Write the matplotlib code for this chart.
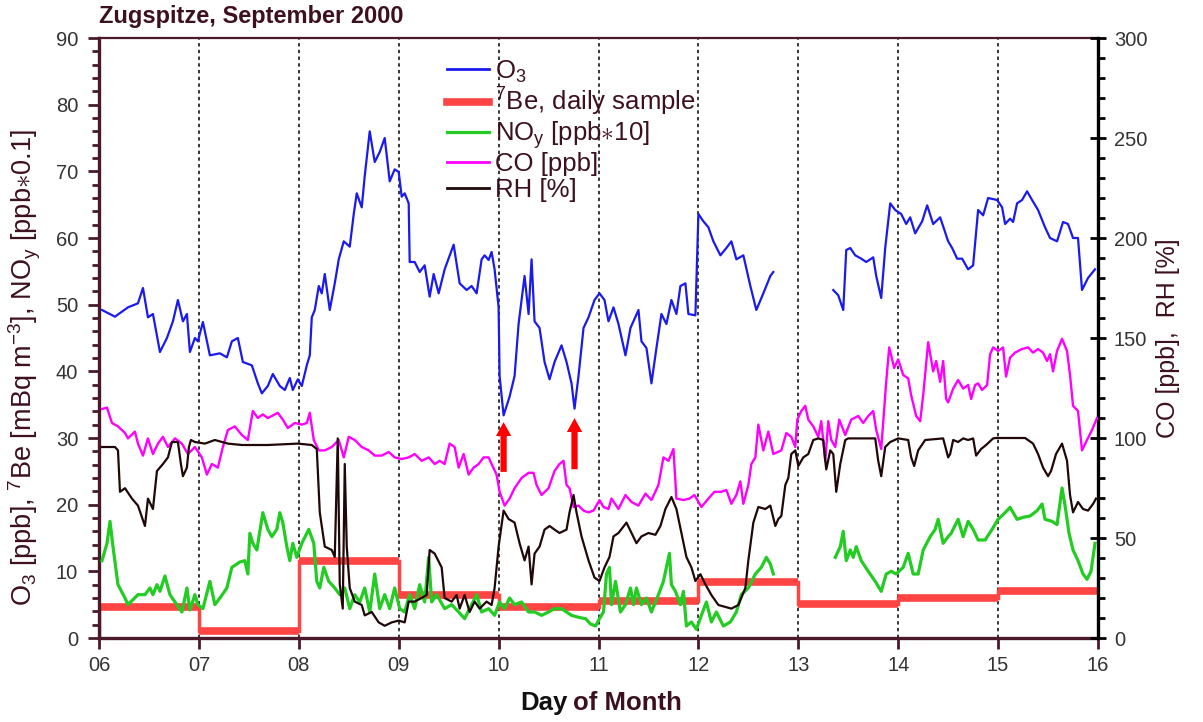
import numpy as np
import matplotlib
matplotlib.use('Agg')
import matplotlib.pyplot as plt
from matplotlib.lines import Line2D
from matplotlib.ticker import MultipleLocator

plt.rcParams['font.family'] = ['Liberation Sans', 'DejaVu Sans']
plt.rcParams['mathtext.fontset'] = 'custom'
plt.rcParams['mathtext.rm'] = 'Liberation Sans'
plt.rcParams['mathtext.it'] = 'Liberation Sans:italic'

MAROON = '#4a1a2a'
TXT = '#3d1020'

# --- O3 [ppb] (left axis) ---
o3_day = [6.03, 6.16, 6.29, 6.39, 6.44, 6.49, 6.54, 6.61, 6.68, 6.74, 6.79, 6.84, 6.88, 6.91,
          6.96, 6.99, 7.04, 7.11, 7.21, 7.28, 7.33, 7.39, 7.44, 7.53, 7.59, 7.63, 7.69, 7.74,
          7.81, 7.86, 7.91, 7.94, 7.99, 8.03, 8.08, 8.11, 8.13, 8.16, 8.20, 8.23, 8.26, 8.31,
          8.36, 8.40, 8.45, 8.51, 8.55, 8.58, 8.63, 8.66, 8.71, 8.76, 8.81, 8.86, 8.91, 8.96,
          9.00, 9.03, 9.06, 9.10, 9.11, 9.16, 9.21, 9.26, 9.31, 9.35, 9.40, 9.46, 9.55, 9.61,
          9.68, 9.73, 9.78, 9.83, 9.86, 9.90, 9.93, 9.96, 10.00, 10.01, 10.05, 10.11, 10.16,
          10.20, 10.23, 10.26, 10.30, 10.33, 10.36, 10.41, 10.46, 10.51, 10.56, 10.63, 10.68,
          10.73, 10.76, 10.80, 10.85, 10.90, 10.96, 11.01, 11.06, 11.10, 11.15, 11.20, 11.27,
          11.32, 11.40, 11.43, 11.48, 11.53, 11.58, 11.63, 11.68, 11.73, 11.78, 11.82, 11.87,
          11.90, 11.97, 12.00, 12.05, 12.10, 12.15, 12.22, 12.28, 12.33, 12.38, 12.45, 12.52,
          12.58, 12.65, 12.72, 12.75, 12.76,
          13.35, 13.40, 13.45, 13.48, 13.52, 13.57, 13.63, 13.68, 13.75, 13.78, 13.83, 13.87,
          13.92, 13.97, 14.03, 14.08, 14.12, 14.17, 14.24, 14.29, 14.35, 14.42, 14.50, 14.54,
          14.59, 14.64, 14.70, 14.75, 14.80, 14.85, 14.90, 14.99, 15.04, 15.07, 15.12, 15.15,
          15.19, 15.24, 15.29, 15.34, 15.40, 15.47, 15.52, 15.59, 15.65, 15.70, 15.75, 15.80,
          15.84, 15.90, 15.97]
o3_val = [49.2, 48.2, 49.6, 50.2, 52.5, 48.1, 48.6, 42.9, 45.0, 47.5, 50.7, 47.5, 48.6, 42.9,
          45.0, 44.5, 47.4, 42.4, 42.7, 42.1, 44.5, 45.0, 41.4, 40.9, 38.2, 36.7, 37.8, 39.6,
          37.8, 37.2, 39.0, 37.2, 38.8, 37.8, 40.9, 42.4, 48.1, 49.2, 52.8, 51.7, 54.6, 49.2,
          53.2, 56.8, 59.5, 58.7, 63.6, 66.7, 64.6, 69.3, 76.0, 71.4, 72.9, 75.0, 68.5, 70.3,
          69.9, 66.2, 66.7, 65.2, 56.4, 56.4, 54.9, 55.9, 51.2, 54.6, 51.7, 55.3, 59.0, 53.2,
          52.2, 52.8, 51.7, 56.8, 57.4, 56.7, 57.9, 55.3, 49.6, 39.3, 33.4, 36.2, 39.3,
          47.1, 50.7, 54.3, 48.6, 56.8, 47.5, 46.5, 41.4, 38.8, 41.4, 43.9, 41.4,
          38.2, 34.4, 39.3, 46.5, 48.1, 50.7, 51.7, 50.7, 47.5, 49.6, 47.1, 42.4,
          46.5, 49.2, 44.5, 43.5, 38.2, 43.5, 48.6, 47.1, 50.7, 48.6, 52.8, 53.2,
          48.6, 48.4, 63.6, 62.5, 61.6, 59.5, 57.4, 58.5, 59.5, 56.8, 57.4, 52.8,
          49.2, 51.7, 54.3, 54.9, np.nan,
          52.2, 51.4, 49.2, 58.2, 58.5, 57.4, 56.9, 56.4, 57.1, 54.3, 51.0, 58.5,
          65.2, 64.2, 63.6, 62.1, 63.1, 60.7, 62.5, 64.9, 62.1, 63.1, 59.5, 58.5,
          56.9, 56.9, 55.3, 55.9, 64.2, 63.4, 66.0, 65.7, 64.6, 62.1, 62.9, 62.4,
          65.2, 65.7, 67.0, 65.7, 64.2, 61.6, 60.0, 59.5, 62.4, 62.1, 60.0, 60.0,
          52.2, 54.0, 55.3]

# --- NOy [ppb*10] (left axis) ---
noy_day = [6.03, 6.08, 6.11, 6.14, 6.19, 6.26, 6.29, 6.39, 6.46, 6.51, 6.54, 6.58, 6.61, 6.66,
           6.71, 6.78, 6.83, 6.88, 6.91, 6.96, 6.99, 7.04, 7.11, 7.16, 7.21, 7.28, 7.33, 7.41,
           7.46, 7.49, 7.51, 7.54, 7.58, 7.64, 7.69, 7.73, 7.78, 7.81, 7.84, 7.88, 7.91, 7.94,
           7.98, 8.03, 8.10, 8.15, 8.18, 8.21, 8.25, 8.30, 8.36, 8.41, 8.46, 8.51, 8.56, 8.61,
           8.66, 8.71, 8.76, 8.81, 8.86, 8.91, 8.96, 9.01, 9.06, 9.11, 9.16, 9.21, 9.26, 9.30,
           9.33, 9.38, 9.41, 9.46, 9.53, 9.60, 9.66, 9.73, 9.78, 9.83, 9.90, 9.96, 10.01, 10.06,
           10.11, 10.16, 10.23, 10.30, 10.36, 10.43, 10.50, 10.56, 10.63, 10.68, 10.73, 10.80,
           10.87, 10.92, 10.97, 11.01, 11.05, 11.08, 11.11, 11.13, 11.17, 11.22, 11.27, 11.32,
           11.35, 11.38, 11.43, 11.48, 11.53, 11.60, 11.65, 11.68, 11.71, 11.73, 11.77, 11.82,
           11.85, 11.88, 11.93, 11.98, 12.03, 12.08, 12.13, 12.18, 12.25, 12.32, 12.38, 12.43,
           12.50, 12.57, 12.63, 12.68, 12.72, 12.75, 12.76,
           13.37, 13.42, 13.45, 13.48, 13.52, 13.55, 13.58, 13.63, 13.70, 13.77, 13.83, 13.88,
           13.93, 13.98, 14.05, 14.10, 14.15, 14.20, 14.25, 14.32, 14.37, 14.40, 14.45, 14.50,
           14.53, 14.60, 14.65, 14.70, 14.75, 14.80, 14.87, 14.94, 15.00, 15.07, 15.12, 15.19,
           15.25, 15.32, 15.39, 15.44, 15.47, 15.54, 15.59, 15.64, 15.67, 15.71, 15.75, 15.80,
           15.85, 15.89, 15.93, 15.97]
noy_val = [11.6, 14.2, 17.5, 13.7, 8.0, 6.0, 5.0, 6.5, 6.5, 7.5, 6.5, 8.0, 7.0, 9.3,
           6.5, 5.0, 3.9, 7.5, 4.2, 6.5, 5.0, 4.4, 8.5, 5.0, 6.0, 7.5, 10.6, 11.4,
           11.6, 9.6, 15.7, 14.2, 13.2, 18.8, 16.3, 15.2, 16.3, 18.8, 17.3, 13.7, 11.6, 14.2,
           12.1, 14.2, 16.3, 14.2, 8.5, 7.5, 10.6, 8.5, 7.5, 6.5, 7.5, 4.4, 6.5, 5.4,
           7.5, 3.9, 9.6, 4.4, 6.5, 4.4, 7.5, 4.4, 3.9, 6.5, 4.4, 8.0, 5.4, 12.1,
           5.4, 6.5, 5.7, 4.4, 5.0, 3.9, 2.9, 5.0, 6.5, 3.9, 4.4, 3.4, 5.4, 4.4,
           6.0, 5.0, 5.4, 3.9, 3.9, 3.4, 3.9, 4.4, 4.4, 3.9, 3.4, 3.1,
           2.9, 2.1, 1.8, 2.9, 3.9, 9.6, 10.6, 5.0, 8.5, 3.9, 5.0, 7.5,
           5.0, 7.5, 5.0, 6.0, 3.9, 6.5, 8.5, 10.6, 12.7, 8.0, 7.0, 5.0,
           7.0, 1.8, 2.4, 1.3, 3.4, 5.4, 2.4, 3.9, 1.8, 2.4, 3.9, 6.5,
           7.5, 9.6, 10.6, 12.1, 11.1, 9.6, np.nan,
           12.1, 13.7, 16.0, 11.6, 13.2, 12.1, 13.7, 11.6, 10.0, 8.5, 7.0, 9.6,
           10.0, 9.6, 10.6, 12.7, 9.6, 9.6, 13.2, 15.2, 16.3, 17.8, 14.2, 15.2,
           15.7, 17.8, 15.2, 17.5, 16.3, 14.7, 14.7, 16.3, 17.8, 18.8, 19.6, 17.8,
           18.1, 18.3, 19.1, 20.1, 17.8, 17.5, 17.0, 22.5, 19.9, 15.7, 13.2, 11.6,
           9.6, 8.8, 10.0, 14.2]

# --- CO [ppb] (right axis) ---
co_day = [6.03, 6.08, 6.13, 6.19, 6.26, 6.29, 6.36, 6.39, 6.44, 6.49, 6.54, 6.59, 6.64, 6.69,
          6.76, 6.83, 6.89, 6.96, 7.03, 7.08, 7.13, 7.19, 7.24, 7.29, 7.36, 7.43, 7.49, 7.54,
          7.59, 7.64, 7.69, 7.73, 7.79, 7.84, 7.89, 7.96, 8.03, 8.08, 8.11, 8.15, 8.20, 8.26,
          8.33, 8.40, 8.45, 8.50, 8.56, 8.63, 8.70, 8.76, 8.83, 8.90, 8.96, 9.03, 9.10, 9.16,
          9.23, 9.30, 9.36, 9.41, 9.46, 9.51, 9.56, 9.60, 9.65, 9.70, 9.75, 9.80, 9.85, 9.90,
          9.93, 9.98, 10.01, 10.06, 10.11, 10.16, 10.23, 10.30, 10.35, 10.38, 10.43, 10.50,
          10.56, 10.61, 10.65, 10.68, 10.71, 10.75, 10.80, 10.85, 10.90, 10.95, 11.01, 11.05,
          11.10, 11.13, 11.20, 11.27, 11.33, 11.40, 11.47, 11.53, 11.60, 11.65, 11.70, 11.75,
          11.78, 11.85, 11.91, 11.96, 12.03, 12.10, 12.16, 12.23, 12.28, 12.33, 12.38, 12.42,
          12.45, 12.50, 12.53, 12.57, 12.60, 12.65, 12.70, 12.75, 12.83, 12.88, 12.93, 12.97,
          12.99, 13.03, 13.07, 13.10, 13.15, 13.20, 13.23, 13.27, 13.30, 13.33, 13.37, 13.41,
          13.47, 13.53, 13.60, 13.65, 13.70, 13.75, 13.78, 13.83, 13.88, 13.91, 13.96, 14.00,
          14.05, 14.10, 14.13, 14.18, 14.22, 14.25, 14.30, 14.35, 14.38, 14.42, 14.45, 14.48,
          14.50, 14.55, 14.60, 14.65, 14.70, 14.73, 14.77, 14.80, 14.84, 14.89, 14.92, 14.95,
          15.00, 15.05, 15.08, 15.12, 15.17, 15.24, 15.30, 15.35, 15.40, 15.45, 15.49, 15.52,
          15.55, 15.59, 15.64, 15.69, 15.72, 15.75, 15.80, 15.84, 15.89, 15.94, 15.99]
co_val = [114.5, 115.2, 107.5, 105.8, 102.5, 99.8, 103.2, 97.2, 91.2, 99.8, 92.0, 97.2, 100.6, 95.5,
          99.8, 97.2, 92.0, 95.5, 90.3, 81.7, 87.0, 85.2, 95.5, 104.0, 105.8, 101.5, 99.0, 113.5,
          110.0, 111.8, 110.0, 111.0, 112.6, 109.2, 105.0, 107.5, 106.7, 107.5, 112.6, 99.0, 93.8, 93.8,
          95.5, 99.0, 90.3, 100.6, 99.0, 95.5, 93.8, 91.2, 91.2, 93.0, 90.3, 89.5, 90.3, 92.0,
          88.6, 90.3, 87.0, 88.6, 87.0, 97.2, 95.5, 85.2, 92.0, 81.7, 85.2, 87.0, 90.3, 90.3,
          87.0, 81.7, 73.1, 66.2, 69.7, 74.9, 80.0, 82.6, 82.6, 76.5, 71.5, 74.9,
          83.5, 87.0, 88.6, 76.5, 74.9, 65.5, 66.2, 63.7, 62.8, 63.7, 68.9, 65.5,
          64.5, 69.7, 64.5, 71.5, 68.0, 66.2, 72.2, 69.0, 76.5, 90.3, 88.6, 94.5,
          69.7, 69.0, 69.7, 71.5, 65.5, 69.7, 73.1, 73.1, 74.0, 67.1, 71.5, 78.3,
          67.1, 76.5, 87.0, 90.3, 106.7, 93.8, 103.2, 92.0, 93.8, 102.5, 100.6, 95.5,
          109.2, 113.5, 116.1, 109.2, 105.8, 100.6, 108.4, 88.6, 108.4, 99.0, 95.5, 109.2,
          101.5, 109.2, 111.0, 107.5, 111.0, 113.5, 104.0, 94.5, 128.1, 145.3, 135.0, 139.3,
          131.5, 129.8, 121.3, 111.0, 108.4, 121.3, 147.9, 133.3, 138.5, 128.1, 138.5, 119.5,
          117.8, 124.7, 129.0, 124.7, 126.5, 119.5, 126.5, 127.3, 124.0, 126.5, 141.9, 145.3,
          143.5, 145.3, 130.7, 140.2, 142.7, 144.5, 145.3, 142.7, 144.5, 142.7, 138.5, 141.9,
          133.3, 143.5, 149.6, 143.5, 131.5, 116.1, 113.5, 93.8, 99.0, 104.0, 110.0]

# --- RH [%] (right axis) ---
rh_day = [6.03, 6.16, 6.19, 6.21, 6.26, 6.33, 6.39, 6.46, 6.49, 6.54, 6.58, 6.64, 6.69, 6.73,
          6.79, 6.82, 6.84, 6.88, 6.90, 6.92, 6.96, 7.06, 7.16, 7.29, 7.43, 7.69, 7.99, 8.13,
          8.18, 8.21, 8.26, 8.33, 8.36, 8.39, 8.41, 8.44, 8.46, 8.48, 8.51, 8.56, 8.63, 8.66,
          8.73, 8.80, 8.86, 8.93, 9.00, 9.06, 9.10, 9.16, 9.23, 9.28, 9.31, 9.36, 9.43, 9.46,
          9.53, 9.58, 9.61, 9.66, 9.71, 9.76, 9.81, 9.88, 9.93, 9.96, 10.00, 10.05, 10.10,
          10.16, 10.21, 10.26, 10.30, 10.33, 10.36, 10.41, 10.46, 10.51, 10.56, 10.61, 10.68,
          10.71, 10.75, 10.78, 10.83, 10.90, 10.96, 11.01, 11.06, 11.11, 11.15, 11.20, 11.28,
          11.33, 11.38, 11.43, 11.50, 11.57, 11.62, 11.67, 11.73, 11.78, 11.83, 11.88, 11.93,
          11.97, 12.02, 12.07, 12.13, 12.20, 12.27, 12.33, 12.40, 12.47, 12.50, 12.55, 12.60,
          12.67, 12.72, 12.77, 12.80, 12.83, 12.87, 12.90, 12.93, 12.97, 13.00, 13.05, 13.10,
          13.15, 13.20, 13.25, 13.27, 13.28, 13.32, 13.35, 13.38, 13.42, 13.47, 13.50, 13.77,
          13.80, 13.83, 13.87, 13.92, 14.00, 14.10, 14.13, 14.16, 14.20, 14.27, 14.45, 14.50,
          14.52, 14.55, 14.60, 14.65, 14.70, 14.75, 14.78, 14.83, 14.88, 14.95, 14.98, 15.27,
          15.35, 15.40, 15.45, 15.50, 15.53, 15.58, 15.64, 15.69, 15.72, 15.75, 15.80, 15.85,
          15.90, 15.95, 15.98]
rh_val = [95.5, 95.5, 93.8, 73.1, 74.9, 69.7, 66.2, 56.0, 69.7, 64.5, 83.5, 87.0, 90.3, 98.0,
          98.0, 87.0, 80.9, 85.2, 95.5, 99.0, 98.0, 97.2, 99.0, 97.2, 96.5, 96.5, 97.2, 96.5,
          94.5, 62.8, 45.7, 44.0, 40.5, 99.8, 26.8, 14.7, 87.0, 45.7, 25.0, 18.2, 16.5, 11.3,
          13.0, 7.8, 6.1, 7.8, 8.7, 7.8, 18.2, 18.2, 20.0, 21.5, 44.0, 42.2, 35.3, 20.0,
          18.2, 21.5, 14.7, 21.5, 13.0, 18.2, 14.7, 18.2, 16.5, 25.0, 45.7, 63.7, 59.5,
          57.7, 47.4, 38.8, 45.7, 26.8, 42.2, 45.7, 54.2, 56.0, 54.2, 52.5, 54.2,
          62.8, 71.5, 62.8, 50.8, 38.8, 30.2, 28.5, 35.3, 40.5, 50.8, 52.5, 57.7,
          52.5, 47.4, 50.8, 52.5, 51.6, 56.0, 64.5, 70.5, 64.5, 52.5, 40.5, 35.3,
          28.5, 31.9, 26.8, 21.5, 16.5, 15.5, 14.7, 16.5, 25.0, 38.8, 57.7, 65.5,
          64.5, 66.2, 56.0, 59.5, 61.0, 76.5, 80.0, 92.0, 93.8, 86.0, 90.3, 92.0,
          99.0, 99.8, 99.0, 88.6, 84.3, 93.8, 92.0, 73.1, 87.0, 99.0, 99.8, 99.8,
          88.6, 80.9, 95.5, 98.0, 99.8, 99.0, 90.3, 86.0, 93.8, 99.0, 99.8, 90.3,
          92.0, 99.0, 98.0, 99.8, 99.0, 99.8, 91.2, 94.5, 96.5, 99.8, 100.0, 100.0,
          97.2, 92.0, 85.2, 80.9, 83.5, 92.0, 97.2, 88.6, 71.5, 62.8, 68.0, 64.5,
          63.7, 67.0, 69.7]

# --- 7Be daily samples [mBq m-3] ---
be_edges = [6, 7, 8, 9, 10, 11, 12, 13, 14, 15, 16]
be_vals = [4.7, 1.0, 11.5, 6.5, 4.7, 5.6, 8.4, 5.1, 6.0, 7.1]

# arrows (day, base, tip) marking O3 minima
arrow_day = [10.05, 10.76]
arrow_base = [24.5, 24.9]
arrow_tip = [32.8, 33.4]

days = list(range(6, 17))

fig = plt.figure(figsize=(12.03, 7.22), dpi=100)
ax = fig.add_axes([99 / 1203, 1 - 638 / 722, 999 / 1203, 600 / 722])
ax2 = ax.twinx()

for d in days[1:-1]:
    ax.axvline(d, color='black', lw=1.1, ls=(0, (2.2, 2.2)), zorder=1)

# 7Be step
ax.hlines(be_vals, be_edges[:-1], be_edges[1:], color='#ff4444', lw=5.5, zorder=2)
ax.stairs(be_vals, be_edges, baseline=None, color='#ff4444', lw=2.5, zorder=2)
ax.vlines(be_edges[0], 0, be_vals[0], color='#ff4444', lw=2.5, zorder=2)

ax.plot(noy_day, noy_val, color='#22cc22', lw=2.3, zorder=3)
ax.plot(o3_day, o3_val, color='#1a1aee', lw=1.6, zorder=4)

for d, b, t in zip(arrow_day, arrow_base, arrow_tip):
    ax.annotate('', xy=(d, t), xytext=(d, b),
                arrowprops=dict(arrowstyle='simple,head_width=1.1,head_length=1.0,tail_width=0.45',
                                color='#ff0000', lw=0), zorder=5)

ax2.plot(co_day, co_val, color='#ff00ff', lw=1.7, zorder=3)
ax2.plot(rh_day, rh_val, color='#200808', lw=1.6, zorder=4)

ax.set_xlim(6, 16)
ax.set_ylim(0, 90)
ax2.set_ylim(0, 300)

ax.set_xticks(days)
ax.set_xticklabels([f'{d:02d}' for d in days])
ax.yaxis.set_major_locator(MultipleLocator(10))
ax.yaxis.set_minor_locator(MultipleLocator(2))
ax2.yaxis.set_major_locator(MultipleLocator(50))
ax2.yaxis.set_minor_locator(MultipleLocator(10))

for s in ['left', 'bottom', 'top']:
    ax.spines[s].set_color(MAROON)
ax.spines['left'].set_linewidth(2.4)
ax.spines['bottom'].set_linewidth(2.4)
ax.spines['top'].set_linewidth(1.6)
ax.spines['right'].set_visible(False)
for s in ['left', 'bottom', 'top']:
    ax2.spines[s].set_visible(False)
ax2.spines['right'].set_color('black')
ax2.spines['right'].set_linewidth(2.4)

ax.tick_params(axis='y', which='major', direction='out', length=8, width=2, color=MAROON,
               labelsize=14.5, labelcolor='#333333', pad=7)
ax.tick_params(axis='y', which='minor', direction='out', length=5, width=2, color=MAROON)
ax.tick_params(axis='x', which='major', direction='out', length=8, width=2, color=MAROON,
               labelsize=14.5, labelcolor='#333333', pad=5)
ax2.tick_params(axis='y', which='major', direction='inout', length=11, width=2, color='black',
                labelsize=14.5, labelcolor='#333333', pad=6)
ax2.tick_params(axis='y', which='minor', direction='out', length=5, width=2, color='black')

ax.set_ylabel(r'O$_3$ [ppb], $^7$Be [mBq m$^{-3}$], NO$_\mathrm{y}$ [ppb$\ast$0.1]',
              fontsize=19.5, color=TXT)
ax.yaxis.set_label_coords(-0.056, 0.45)
ax2.set_ylabel('CO [ppb],  RH [%]', fontsize=18, color=TXT)
ax2.yaxis.set_label_coords(1.058, 0.5)

ax.text(0.4695, -0.108, 'Day', transform=ax.transAxes, fontsize=18.5, fontweight='bold',
        color='#111111', ha='right', va='center')
ax.text(0.4745, -0.108, 'of Month', transform=ax.transAxes, fontsize=18.5, fontweight='bold',
        color=TXT, ha='left', va='center')

fig.text(99 / 1203, 1 - 17 / 722, 'Zugspitze, September 2000', fontsize=17, fontweight='bold',
         color=TXT, ha='left', va='center')

handles = [Line2D([], [], color='#1a1aee', lw=2),
           Line2D([], [], color='#ff4444', lw=5.5),
           Line2D([], [], color='#22cc22', lw=2.3),
           Line2D([], [], color='#ff00ff', lw=2),
           Line2D([], [], color='#200808', lw=2)]
labels = [r'O$_3$', r'$^7$Be, daily sample', r'NO$_\mathrm{y}$ [ppb$\ast$10]', 'CO [ppb]', 'RH [%]']
leg = ax2.legend(handles, labels, loc='upper left', bbox_to_anchor=(0.348, 0.966), frameon=False,
                 fontsize=18.5, handlelength=1.65, handletextpad=0.25, labelspacing=0.05,
                 borderpad=0, borderaxespad=0)
for t in leg.get_texts():
    t.set_color(TXT)

fig.savefig('out.png', dpi=100)
